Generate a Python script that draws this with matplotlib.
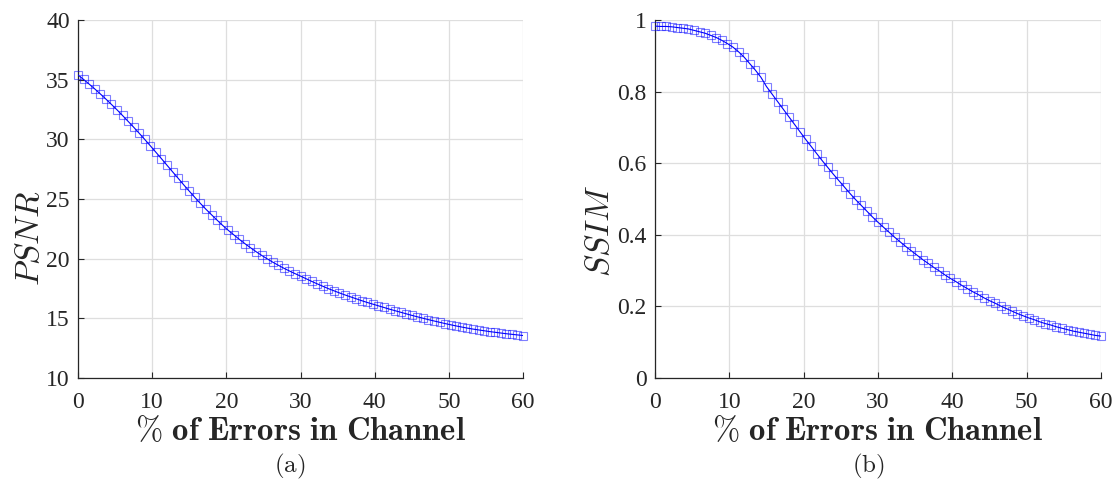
import numpy as np
import matplotlib
matplotlib.use('Agg')
import matplotlib.pyplot as plt

plt.rcParams['mathtext.fontset'] = 'cm'
plt.rcParams['font.family'] = 'Liberation Serif'

#############################
# Data
#############################

err_pct = [0.0, 0.75, 1.5, 2.25, 3.0, 3.75, 4.5, 5.25, 6.0, 6.75,
           7.5, 8.25, 9.0, 9.75, 10.5, 11.25, 12.0, 12.75, 13.5, 14.25,
           15.0, 15.75, 16.5, 17.25, 18.0, 18.75, 19.5, 20.25, 21.0, 21.75,
           22.5, 23.25, 24.0, 24.75, 25.5, 26.25, 27.0, 27.75, 28.5, 29.25,
           30.0, 30.75, 31.5, 32.25, 33.0, 33.75, 34.5, 35.25, 36.0, 36.75,
           37.5, 38.25, 39.0, 39.75, 40.5, 41.25, 42.0, 42.75, 43.5, 44.25,
           45.0, 45.75, 46.5, 47.25, 48.0, 48.75, 49.5, 50.25, 51.0, 51.75,
           52.5, 53.25, 54.0, 54.75, 55.5, 56.25, 57.0, 57.75, 58.5, 59.25,
           60.0]

psnr = [35.40, 35.02, 34.63, 34.23, 33.81, 33.38, 32.93, 32.48, 32.00, 31.51,
        31.02, 30.51, 29.99, 29.46, 28.92, 28.38, 27.83, 27.28, 26.74, 26.19,
        25.66, 25.14, 24.63, 24.14, 23.68, 23.23, 22.79, 22.38, 22.00, 21.62,
        21.26, 20.92, 20.59, 20.28, 19.99, 19.71, 19.45, 19.20, 18.97, 18.75,
        18.54, 18.32, 18.10, 17.89, 17.69, 17.49, 17.31, 17.13, 16.96, 16.80,
        16.64, 16.48, 16.33, 16.19, 16.05, 15.91, 15.77, 15.64, 15.51, 15.38,
        15.25, 15.13, 15.01, 14.89, 14.78, 14.67, 14.56, 14.46, 14.36, 14.27,
        14.18, 14.10, 14.03, 13.96, 13.89, 13.83, 13.77, 13.71, 13.66, 13.61,
        13.56]

ssim = [0.983, 0.982, 0.982, 0.981, 0.979, 0.977, 0.975, 0.971, 0.967, 0.963,
        0.957, 0.951, 0.943, 0.934, 0.924, 0.911, 0.896, 0.878, 0.860, 0.840,
        0.814, 0.793, 0.772, 0.751, 0.730, 0.709, 0.688, 0.667, 0.647, 0.627,
        0.607, 0.588, 0.569, 0.551, 0.533, 0.515, 0.498, 0.482, 0.466, 0.450,
        0.435, 0.421, 0.407, 0.393, 0.380, 0.367, 0.355, 0.343, 0.331, 0.320,
        0.309, 0.299, 0.288, 0.278, 0.269, 0.259, 0.250, 0.241, 0.233, 0.224,
        0.216, 0.209, 0.201, 0.194, 0.187, 0.180, 0.174, 0.168, 0.163, 0.157,
        0.152, 0.148, 0.143, 0.139, 0.135, 0.131, 0.128, 0.125, 0.122, 0.119,
        0.117]

x_ticks = [0, 10, 20, 30, 40, 50, 60]
psnr_ticks = [10, 15, 20, 25, 30, 35, 40]
ssim_ticks = [0, 0.2, 0.4, 0.6, 0.8, 1]
ssim_tick_labels = ['0', '0.2', '0.4', '0.6', '0.8', '1']

#############################
# Figure
#############################

fig = plt.figure(figsize=(11.15, 4.84), dpi=100)
ax0 = fig.add_axes([78/1115, 106/484, 445/1115, 358/484])
ax1 = fig.add_axes([655/1115, 106/484, 446/1115, 358/484])


def style_axis(ax):
    for s in ['top', 'right']:
        ax.spines[s].set_visible(False)
    for s in ['left', 'bottom']:
        ax.spines[s].set_color('#262626')
        ax.spines[s].set_linewidth(0.9)
    ax.grid(True, color='#dedede', linewidth=0.9)
    ax.set_axisbelow(True)
    ax.tick_params(direction='in', length=4, width=0.8, color='#262626',
                   labelsize=17, labelcolor='#262626', pad=6)
    ax.tick_params(axis='x', pad=10)
    ax.set_xlim(0, 60)
    ax.set_xticks(x_ticks)
    ax.set_xlabel(r'$\mathbf{\%\ of\ Errors\ in\ Channel}$', fontsize=23.5,
                  color='#262626', labelpad=2)


def draw_curve(ax, y):
    ax.plot(err_pct, y, color='#0000ff', linewidth=0.8, zorder=3)
    ax.plot(err_pct, y, linestyle='none', marker='s', markersize=5.5,
            markerfacecolor='none', markeredgecolor=(0, 0, 1, 0.5),
            markeredgewidth=0.8, clip_on=False, zorder=4)


style_axis(ax0)
draw_curve(ax0, psnr)
ax0.set_ylim(10, 40)
ax0.set_yticks(psnr_ticks)
ax0.set_ylabel(r'$PSNR$', fontsize=24, color='#262626')
ax0.yaxis.set_label_coords(-0.072, 0.39)

style_axis(ax1)
draw_curve(ax1, ssim)
ax1.set_ylim(0, 1)
ax1.set_yticks(ssim_ticks)
ax1.set_yticklabels(ssim_tick_labels)
ax1.set_ylabel(r'$SSIM$', fontsize=24, color='#262626')
ax1.yaxis.set_label_coords(-0.088, 0.41)

fig.text(290/1115, 1 - 466/484, r'$\mathrm{(a)}$', fontsize=18,
         ha='center', va='center', color='#262626')
fig.text(868/1115, 1 - 466/484, r'$\mathrm{(b)}$', fontsize=18,
         ha='center', va='center', color='#262626')

fig.savefig('out.png', dpi=100)
